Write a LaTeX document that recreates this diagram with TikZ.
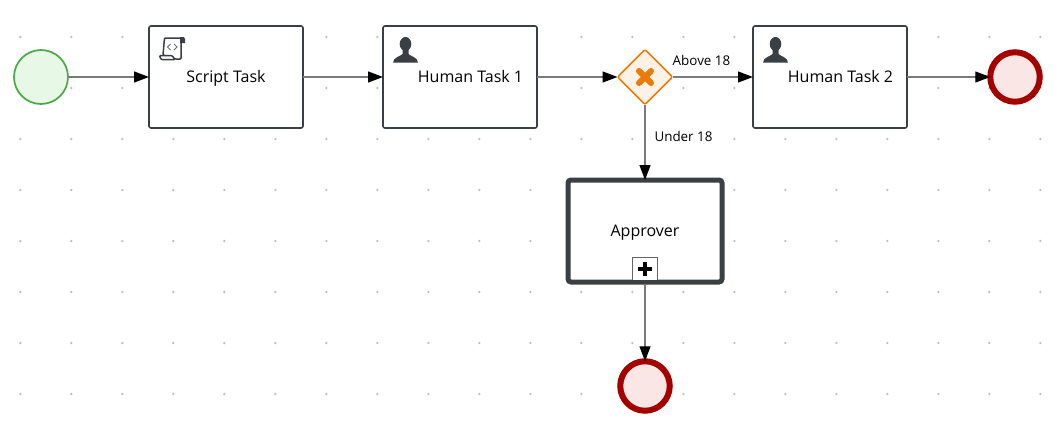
\documentclass[tikz,border=0pt]{standalone}
\usepackage{fontspec}
\setmainfont{Open Sans}
\usetikzlibrary{arrows.meta,shapes.geometric}

\definecolor{taskline}{HTML}{393F44}
\definecolor{flowline}{HTML}{7A7A7A}
\definecolor{griddot}{HTML}{BEBEBE}
\definecolor{startline}{HTML}{4CA844}
\definecolor{startfill}{HTML}{E8F8E6}
\definecolor{endline}{HTML}{A30000}
\definecolor{endfill}{HTML}{FAE6E5}
\definecolor{gateline}{HTML}{EC7A08}
\definecolor{gatefill}{HTML}{FDF2E5}

\tikzset{
    task/.style={draw=taskline, line width=1.6pt, rounded corners=2pt, fill=white,
        minimum width=154pt, minimum height=102pt, inner sep=0pt, outer sep=0pt},
    subtask/.style={task, line width=5pt, rounded corners=3pt},
    tasklabel/.style={inner sep=0pt, text height=11pt, text depth=0pt,
        font=\fontsize{16}{19}\selectfont},
    flowlabel/.style={inner sep=0pt, text height=9.5pt, text depth=0pt,
        font=\fontsize{13.4}{16}\selectfont},
    startevent/.style={circle, draw=startline, fill=startfill, line width=1.7pt,
        minimum size=54pt, inner sep=0pt, outer sep=0pt},
    endevent/.style={circle, draw=endline, fill=endfill, line width=6pt,
        minimum size=49.5pt, inner sep=0pt, outer sep=0pt},
    gateway/.style={diamond, aspect=1, draw=gateline, fill=gatefill, line width=1.5pt,
        rounded corners=2pt, minimum width=55pt, minimum height=55pt, inner sep=0pt, outer sep=0pt},
    flow/.style={draw=flowline, line width=1.3pt,
        -{Triangle[length=15pt, width=11pt, color=black]}},
}

\begin{document}
\begin{tikzpicture}[x=1pt, y=-1pt]
    \useasboundingbox[fill=white] (0,0) rectangle (1059,431);

    % Dotted grid behind the diagram
    \foreach \i in {0,...,20}
        \foreach \j in {0,...,7}
            \fill[griddot] (20.3+51*\i, 37+51*\j) circle (1.3);

    % Events, tasks and gateway
    \node[startevent] (start) at (41,77) {};
    \node[task] (script) at (226,77) {};
    \node[tasklabel] (scriptlabel) at (226,77) {Script Task};
    \node[task] (human1) at (460,77) {};
    \node[tasklabel] (human1label) at (470.5,77) {Human Task 1};
    \node[gateway] (gate) at (645,77) {};
    \node[task] (human2) at (830,77) {};
    \node[tasklabel] (human2label) at (840.5,77) {Human Task 2};
    \node[endevent] (end1) at (1015,77) {};
    \node[subtask] (approver) at (645,231) {};
    \node[tasklabel] (approverlabel) at (645,230.5) {Approver};
    \node[endevent] (end2) at (645,386) {};

    % Draw the sequence flows
    \draw[flow] (start) -- (script);
    \draw[flow] (script) -- (human1);
    \draw[flow] (human1) -- (gate);
    \draw[flow] (gate) -- (human2);
    \draw[flow] (human2) -- (end1);
    \draw[flow] (gate) -- (approver);
    \draw[flow] (approver) -- (end2);

    % Labels for the gateway branches
    \node[flowlabel] (above) at (701.5,60.5) {Above 18};
    \node[flowlabel] (under) at (683.5,136.5) {Under 18};

    % Cross of the gateway
    \draw[gateline, line width=6pt, line cap=round] (639,71) -- (651,83);
    \draw[gateline, line width=6pt, line cap=round] (651,71) -- (639,83);

    % Collapsed marker of the subprocess
    \draw[draw=taskline!80, fill=white, line width=1pt] (632.5,282) rectangle (657.5,257);
    \draw[taskline, line width=4pt] (630,282) -- (660,282);
    \fill[black] (643,262) rectangle (647,276);
    \fill[black] (638,267) rectangle (652,271);

    % User icons
    \foreach \pos in {405.5,775.5} {
        \begin{scope}[shift={(\pos,0)}]
            \fill[taskline] (0,44) ellipse [x radius=5.8, y radius=7];
            \fill[taskline] (-12.5,62.7) .. controls (-12,57) and (-6,57) .. (-3,54)
                -- (-3,49) -- (3,49) -- (3,54)
                .. controls (6,57) and (12,57) .. (12.5,62.7) -- cycle;
        \end{scope}
    }

    % Script icon
    \draw[taskline, line width=1.5pt, fill=white, rounded corners=1pt]
        (164.5,38) -- (181,38) -- (181,59) -- (175,59) -- (163,55) -- cycle;
    \fill[taskline] (180,37.2) -- (184,37.2) -- (185,39) -- (185,43) -- (180,43) -- cycle;
    \draw[taskline, line width=1.5pt, fill=white, rounded corners=1pt]
        (159.5,55.5) -- (172,55.5) -- (175,59.5) -- (161,59.5) -- cycle;
    \draw[taskline!75, line width=0.9pt] (170.5,44) -- (167.5,47) -- (170.5,50);
    \draw[taskline!75, line width=0.9pt] (174,44) -- (177,47) -- (174,50);
\end{tikzpicture}
\end{document}
